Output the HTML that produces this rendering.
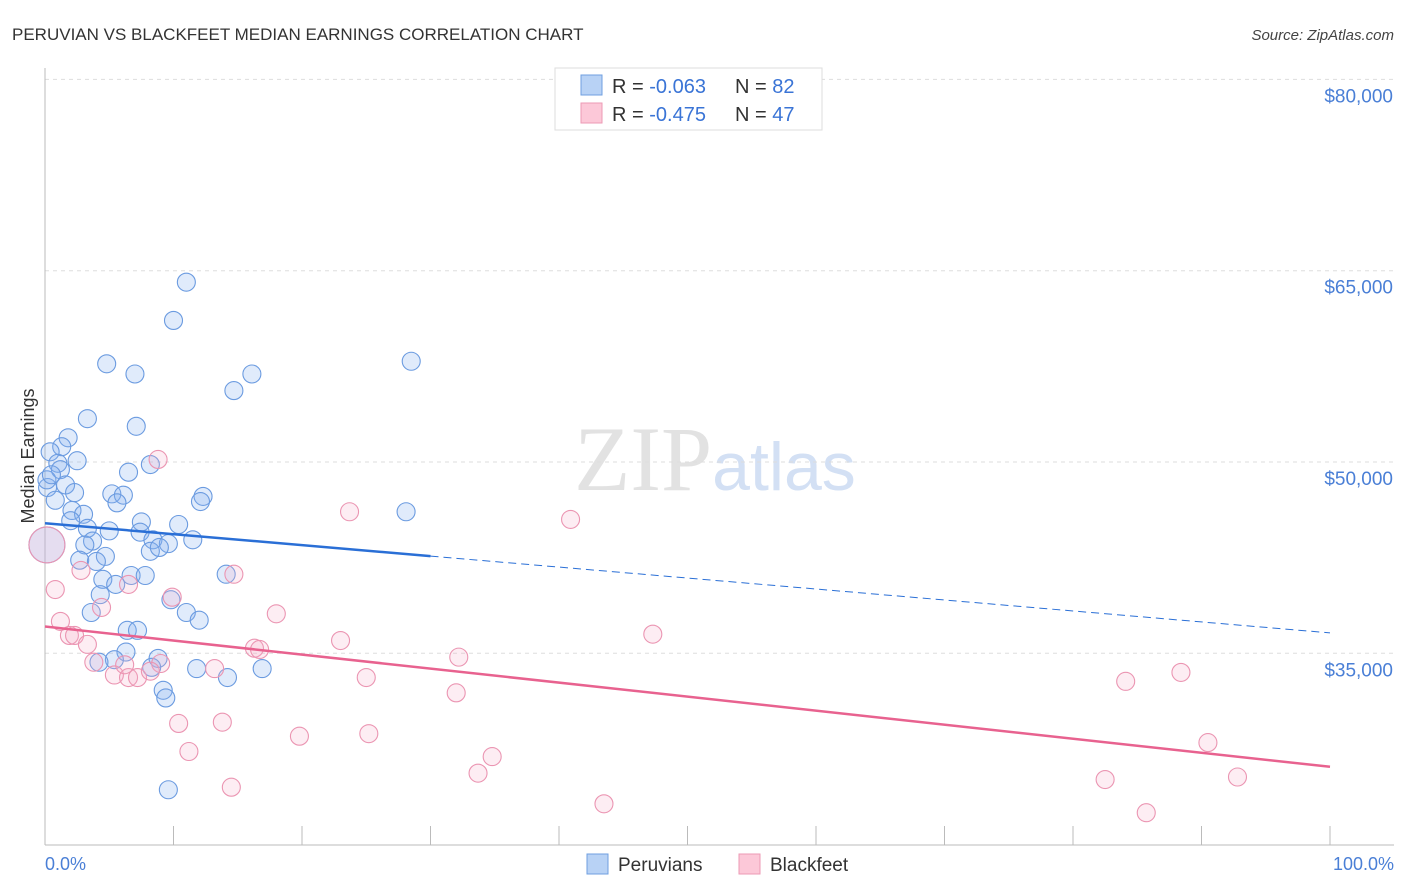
<!DOCTYPE html>
<html><head><meta charset="utf-8"><style>
body{margin:0;background:#fff;font-family:"Liberation Sans",sans-serif}
svg{display:block}
</style></head><body>
<svg id="chart" width="1406" height="892" xmlns="http://www.w3.org/2000/svg">
<text x="12" y="40" font-size="17" fill="#333">PERUVIAN VS BLACKFEET MEDIAN EARNINGS CORRELATION CHART</text>
<text x="1394" y="40" font-size="15" fill="#444" text-anchor="end" font-style="italic">Source: ZipAtlas.com</text>
<text x="715" y="490" font-size="92" text-anchor="middle" fill="#e2e2e2" font-family="Liberation Serif, serif">ZIP<tspan fill="#d3e0f4" font-family="Liberation Sans, sans-serif" font-size="68">atlas</tspan></text>
<g id="grid"></g><g id="axes"></g><g id="pts"></g><g id="trends"></g>
<text transform="translate(34,456) rotate(-90)" font-size="18" fill="#333" text-anchor="middle">Median Earnings</text>
<text x="45" y="870" font-size="18" fill="#4a7fd6">0.0%</text>
<text x="1394" y="870" font-size="18" fill="#4a7fd6" text-anchor="end">100.0%</text>
<g>
<rect x="555" y="68" width="267" height="62" fill="#fff" stroke="#ddd"/>
<rect x="581" y="75" width="21" height="20" fill="#b8d2f5" stroke="#6f9fe0"/>
<rect x="581" y="103" width="21" height="20" fill="#fcc8d8" stroke="#ec9ab5"/>
<text x="612" y="93" font-size="20" fill="#333">R = <tspan fill="#3a74d6">-0.063</tspan></text>
<text x="735" y="93" font-size="20" fill="#333">N = <tspan fill="#3a74d6">82</tspan></text>
<text x="612" y="121" font-size="20" fill="#333">R = <tspan fill="#3a74d6">-0.475</tspan></text>
<text x="735" y="121" font-size="20" fill="#333">N = <tspan fill="#3a74d6">47</tspan></text>
</g>
<g>
<rect x="587" y="854" width="21" height="20" fill="#b8d2f5" stroke="#6f9fe0"/>
<text x="618" y="871" font-size="19" fill="#333">Peruvians</text>
<rect x="739" y="854" width="21" height="20" fill="#fcc8d8" stroke="#ec9ab5"/>
<text x="770" y="871" font-size="19" fill="#333">Blackfeet</text>
</g>
</svg>
<script>
const yTicks=[35000,50000,65000,80000];
const yTickLabels=["$35,000","$50,000","$65,000","$80,000"];
const xTicks=[0,10,20,30,40,50,60,70,80,90,100];
const peruX=[11.0,10.0,4.8,7.0,16.1,28.5,14.7,3.3,7.1,1.8,1.3,0.4,1.0,2.5,8.2,6.5,1.2,1.6,0.2,2.3,5.2,6.1,5.6,12.3,12.1,28.1,2.1,3.0,2.0,7.5,10.4,3.3,5.0,7.4,3.7,3.1,8.4,9.6,11.5,8.2,4.7,2.7,4.0,6.7,7.8,14.1,4.5,5.5,4.3,9.8,3.6,11.0,12.0,6.4,7.2,6.3,5.4,4.2,8.8,16.9,11.8,14.2,8.3,9.2,9.4,9.6,0.15,0.5,0.8,8.9,0.15];
const peruY=[64100,61100,57700,56900,56900,57900,55600,53400,52800,51900,51200,50800,49900,50100,49800,49200,49400,48200,48000,47600,47500,47400,46800,47300,46900,46100,46200,45900,45400,45300,45100,44800,44600,44500,43800,43500,43900,43600,43900,43000,42600,42300,42200,41100,41100,41200,40800,40400,39600,39200,38200,38200,37600,36800,36800,35100,34500,34300,34600,33800,33800,33100,33900,32100,31500,24300,48600,49000,47000,43300,43500];
const blackX=[8.8,23.7,40.9,2.8,0.8,14.7,6.5,4.4,9.9,18.0,1.2,1.9,2.3,3.3,47.3,23.0,16.3,16.7,32.2,3.8,9.0,5.4,6.5,7.2,8.2,13.2,25.0,88.4,84.1,32.0,10.4,13.8,19.8,25.2,11.2,34.8,90.5,33.7,82.5,92.8,14.5,43.5,85.7,6.2,0.15];
const blackY=[50200,46100,45500,41500,40000,41200,40400,38600,39400,38100,37500,36400,36400,35700,36500,36000,35400,35300,34700,34300,34200,33300,33100,33100,33600,33800,33100,33500,32800,31900,29500,29600,28500,28700,27300,26900,28000,25600,25100,25300,24500,23200,22500,34100,43500];
const peruTrend=[45200,36600];
const blackTrend=[37100,26100];
const NS="http://www.w3.org/2000/svg";
const X=p=>45+p*12.85;
const Y=v=>462-(v-50000)*191.3/15000;
function mk(t,a,parent){const e=document.createElementNS(NS,t);for(const k in a)e.setAttribute(k,a[k]);document.getElementById(parent).appendChild(e);return e;}
yTicks.forEach((v,i)=>{
 const l=mk('line',{x1:45,x2:1394,y1:Y(v),y2:Y(v),stroke:'#ddd','stroke-dasharray':'4,4'},'grid');
 
 
 const t=mk('text',{x:1393,y:Y(v)+23,'font-size':19,fill:'#4a7fd6','text-anchor':'end'},'grid');
 t.textContent=yTickLabels[i];
 
 
});
const ax=mk('line',{x1:45,x2:45,y1:68,y2:845,stroke:'#bbb'},'axes');


const bx=mk('line',{x1:45,x2:1394,y1:845,y2:845,stroke:'#bbb'},'axes');


xTicks.forEach(p=>{
 const t=mk('line',{x1:X(p),x2:X(p),y1:826,y2:845,stroke:'#bbb'},'axes');
 
 
});
function dots(xs,ys,fill,stroke,name){
 xs.forEach((x,i)=>{
  const big=(i===xs.length-1&&x<0.5&&ys[i]===43500);
  const c=mk('circle',{cx:X(x),cy:Y(ys[i]),r:big?18:9,fill:fill,stroke:stroke,'stroke-width':1.1},'pts');
  
  
 });
}
dots(peruX,peruY,'rgba(130,175,240,0.25)','#6b9be0','peruvian-point');
dots(blackX,blackY,'rgba(248,175,200,0.22)','#eb95b2','blackfeet-point');
const py=p=>peruTrend[0]+(peruTrend[1]-peruTrend[0])*p/100;
const l1=mk('line',{x1:X(0),y1:Y(py(0)),x2:X(30),y2:Y(py(30)),stroke:'#2a6fd6','stroke-width':2.5},'trends');


const l2=mk('line',{x1:X(30),y1:Y(py(30)),x2:X(100),y2:Y(py(100)),stroke:'#2a6fd6','stroke-width':1,'stroke-dasharray':'8,5'},'trends');


const l3=mk('line',{x1:X(0),y1:Y(blackTrend[0]),x2:X(100),y2:Y(blackTrend[1]),stroke:'#e8628f','stroke-width':2.5},'trends');


</script>
</body></html>
